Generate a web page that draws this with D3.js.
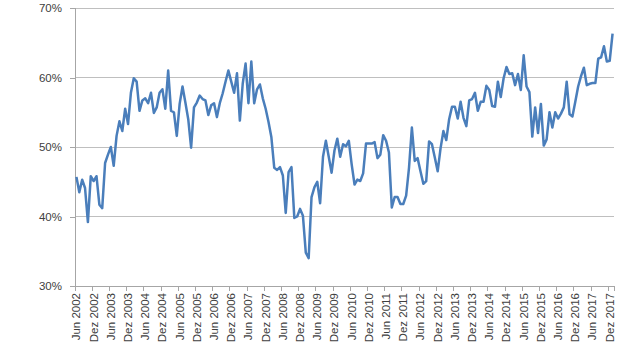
<!DOCTYPE html>
<html>
<head>
<meta charset="utf-8">
<script src="https://cdn.jsdelivr.net/npm/d3@7"></script>
<style>
  html, body { margin: 0; padding: 0; background: #ffffff; }
  svg { display: block; }
  text { font-family: "Liberation Sans", Arial, sans-serif; fill: #404040; }
</style>
</head>
<body>
<svg id="chart" width="640" height="360"></svg>
<script>
// Monthly series, Jun 2002 .. Jan 2018 (percent)
const startMonth = new Date(2002, 5, 1);
const endMonth = new Date(2018, 0, 1);
const values = [
  45.7, 43.5, 45.3, 44.1, 39.2, 45.8, 45.1, 45.8, 41.7, 41.2,
  47.7, 48.9, 50.0, 47.3, 51.6, 53.7, 52.3, 55.5, 53.3, 57.8,
  59.9, 59.4, 55.2, 56.7, 57.0, 56.3, 57.8, 54.9, 55.7, 57.8,
  58.3, 55.5, 61.0, 55.2, 55.0, 51.6, 56.2, 58.7, 56.4, 54.0,
  49.9, 55.7, 56.4, 57.4, 56.9, 56.7, 54.6, 56.0, 56.3, 54.3,
  56.3, 57.7, 59.4, 61.0, 59.4, 57.8, 60.6, 53.8, 59.1, 62.0,
  56.3, 62.3, 56.3, 58.3, 59.0, 57.0, 55.5, 53.6, 51.4, 47.0,
  46.7, 47.1, 45.9, 40.5, 46.4, 47.1, 39.8, 40.0, 41.1, 40.1,
  34.8, 34.0, 42.8, 44.2, 45.0, 41.9, 48.6, 50.9, 48.6, 46.3,
  49.5, 51.2, 48.6, 50.4, 50.1, 50.9, 47.5, 44.6, 45.3, 45.1,
  46.2, 50.5, 50.5, 50.5, 50.7, 48.4, 48.9, 51.7, 50.9, 49.2,
  41.3, 42.8, 42.8, 41.8, 41.8, 43.0, 47.0, 52.8, 48.0, 48.4,
  46.5, 44.7, 45.1, 50.8, 50.4, 48.5, 46.5, 49.8, 52.3, 51.0,
  54.0, 55.8, 55.8, 54.1, 56.5, 54.2, 53.0, 56.7, 56.9, 57.8,
  55.2, 56.5, 56.5, 58.8, 58.2, 55.9, 55.8, 59.4, 57.2, 59.9,
  61.5, 60.5, 60.6, 58.9, 60.5, 58.2, 63.2, 58.7, 57.9, 51.5,
  55.7, 52.0, 56.2, 50.2, 51.1, 55.0, 52.8, 55.0, 54.1, 54.8,
  55.7, 59.4, 54.7, 54.4, 56.5, 58.7, 60.2, 61.4, 58.9, 59.1,
  59.2, 59.2, 62.7, 62.9, 64.5, 62.3, 62.4, 66.3
];
const yTicks = [30, 40, 50, 60, 70];
const tickLabels = [
  "Jun 2002","Dez 2002","Jun 2003","Dez 2003","Jun 2004","Dez 2004",
  "Jun 2005","Dez 2005","Jun 2006","Dez 2006","Jun 2007","Dez 2007",
  "Jun 2008","Dez 2008","Jun 2009","Dez 2009","Jun 2010","Dez 2010",
  "Jun 2011","Dez 2011","Jun 2012","Dez 2012","Jun 2013","Dez 2013",
  "Jun 2014","Dez 2014","Jun 2015","Dez 2015","Jun 2016","Dez 2016",
  "Jun 2017","Dez 2017"
];

(function () {
const months = d3.timeMonth.range(startMonth, d3.timeMonth.offset(endMonth, 1));
const data = months.map((m, i) => ({ m: m, i: i, v: values[i] })).filter(d => d.v != null);

const svg = d3.select("#chart");
const pLeft = 75, pRight = 614, pTop = 8, pBottom = 286;

const x = d3.scaleBand().domain(d3.range(months.length)).range([pLeft, pRight]).padding(0);
const bw = x.bandwidth();
const y = d3.scaleLinear().domain([30, 70]).range([pBottom, pTop]);

// gridlines
svg.append("g").selectAll("line").data(yTicks.filter(t => t > 30)).join("line")
  .attr("x1", pLeft).attr("x2", pRight)
  .attr("y1", d => y(d)).attr("y2", d => y(d))
  .attr("stroke", "#bfbfbf").attr("stroke-width", 1).attr("shape-rendering", "crispEdges");

// y axis
const yAxis = svg.append("g").attr("transform", `translate(${pLeft},0)`)
  .call(d3.axisLeft(y).tickValues(yTicks).tickFormat(d => d + "%").tickSize(5).tickPadding(8));
yAxis.select(".domain").attr("stroke", "#a6a6a6").attr("shape-rendering", "crispEdges");
yAxis.selectAll(".tick line").attr("stroke", "#a6a6a6").attr("shape-rendering", "crispEdges");
yAxis.selectAll("text").attr("font-size", 11.5).attr("fill", "#404040")
  .style("font-family", '"Liberation Sans", Arial, sans-serif');

// x axis line
svg.append("line").attr("x1", pLeft).attr("x2", pRight).attr("y1", pBottom).attr("y2", pBottom)
  .attr("stroke", "#a6a6a6").attr("shape-rendering", "crispEdges");

// x ticks at group boundaries every 6 months
const tickIdx = d3.range(0, tickLabels.length).map(k => k * 6);
svg.append("g").selectAll("line").data(tickIdx.concat([months.length])).join("line")
  .attr("x1", d => d < months.length ? x(d) : pRight)
  .attr("x2", d => d < months.length ? x(d) : pRight)
  .attr("y1", pBottom).attr("y2", pBottom + 5)
  .attr("stroke", "#a6a6a6").attr("shape-rendering", "crispEdges");

// x labels
svg.append("g").selectAll("text").data(tickIdx).join("text")
  .attr("transform", d => `translate(${x(d) + bw / 2 + 4},${pBottom + 7}) rotate(-90)`)
  .attr("text-anchor", "end")
  .attr("font-size", 11.5)
  .text((d, k) => tickLabels[k]);

// line
const line = d3.line().x(d => x(d.i) + bw / 2).y(d => y(d.v));
svg.append("path").datum(data)
  .attr("d", line)
  .attr("fill", "none")
  .attr("stroke", "#4a7ebb")
  .attr("stroke-width", 2.5)
  .attr("stroke-linejoin", "round");
})();
</script>
</body>
</html>
